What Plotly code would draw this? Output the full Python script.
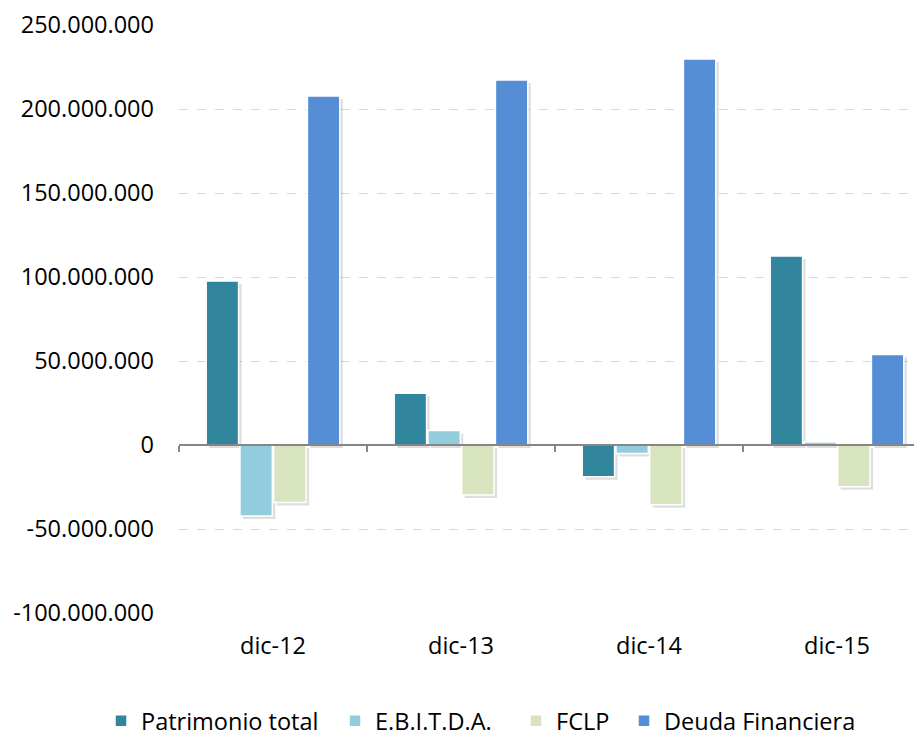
import plotly.graph_objects as go

categories = ["dic-12", "dic-13", "dic-14", "dic-15"]
patrimonio = [97.6e6, 30.8e6, -18.9e6, 112.5e6]
ebitda = [-42.3e6, 8.7e6, -5.0e6, 1.8e6]
fclp = [-34.3e6, -29.8e6, -35.5e6, -24.8e6]
deuda = [207.7e6, 217.3e6, 229.8e6, 53.8e6]

series_names = ["Patrimonio total", "E.B.I.T.D.A.", "FCLP", "Deuda Financiera"]
series_values = [patrimonio, ebitda, fclp, deuda]
colors = ["#31859C", "#93CDDD", "#D7E4BD", "#558ED5"]

y_tickvals = [-100e6, -50e6, 0, 50e6, 100e6, 150e6, 200e6, 250e6]
y_ticktext = ["-100.000.000", "-50.000.000", "0", "50.000.000", "100.000.000",
              "150.000.000", "200.000.000", "250.000.000"]

FONT = "Open Sans"
FS = 23.5

# page body adds an 8px offset; compensate in margins
OFF = 8
W, H = 922, 737
plot_w, plot_h = 743, 588
ML = 179 - OFF
MT = 25 - OFF
MR = W - ML - plot_w
MB = H - MT - plot_h
cat_px = 188
xr = [-0.5, -0.5 + plot_w / cat_px]
yr = [-100e6, 250e6]

# shadow offset (px)
SH_X, SH_Y = 3, 3
dx = SH_X / cat_px
dy = SH_Y * (yr[1] - yr[0]) / plot_h

legend_x_px = [101 - OFF, 335 - OFF, 516 - OFF, 624 - OFF]
legend_y_px = 721 - OFF

fig = go.Figure()

# shadows (drawn first, on overlay axes x2/y2 shifted by a few pixels)
for vals in series_values:
    fig.add_trace(go.Bar(
        x=categories, y=vals, xaxis="x2", yaxis="y2",
        marker=dict(color="rgba(0,0,0,0.13)", line=dict(width=0)),
        showlegend=False, hoverinfo="skip",
    ))

# main bars (overlay axes x3/y3)
for i, (name, vals, col) in enumerate(zip(series_names, series_values, colors)):
    lg = "legend" if i == 0 else f"legend{i+1}"
    fig.add_trace(go.Bar(
        x=categories, y=vals, name=name, xaxis="x3", yaxis="y3",
        marker=dict(color=col, line=dict(color="white", width=1.5)),
        legend=lg,
    ))

# zero-line axis carrier
fig.add_trace(go.Scatter(x=[0], y=[0], xaxis="x4", yaxis="y3", mode="markers",
                         marker=dict(opacity=0), showlegend=False, hoverinfo="skip"))
# base axis carrier
fig.add_trace(go.Scatter(x=[0], y=[0], xaxis="x", yaxis="y", mode="markers",
                         marker=dict(opacity=0), showlegend=False, hoverinfo="skip"))

layout_legends = {}
for i, px in enumerate(legend_x_px):
    key = "legend" if i == 0 else f"legend{i+1}"
    layout_legends[key] = dict(
        xref="container", yref="container",
        x=px / W, xanchor="left",
        y=(H - legend_y_px) / H, yanchor="middle",
        orientation="h",
        font=dict(family=FONT, size=FS, color="#000000"),
        bgcolor="rgba(0,0,0,0)",
        itemwidth=30,
    )

hidden = dict(showgrid=False, showline=False, ticks="", showticklabels=False,
              zeroline=False, automargin=False)

fig.update_layout(
    width=W, height=H,
    margin=dict(l=ML, r=MR, t=MT, b=MB, autoexpand=False),
    paper_bgcolor="white", plot_bgcolor="white",
    barmode="group", bargap=0.282, bargroupgap=0.04,
    font=dict(family=FONT, size=FS, color="#000000"),
    xaxis=dict(
        type="linear", range=xr, showgrid=False, showline=False,
        tickmode="array", tickvals=list(range(len(categories))), ticktext=categories,
        ticks="", tickfont=dict(family=FONT, size=FS), ticklabelstandoff=16,
        zeroline=False, automargin=False,
    ),
    yaxis=dict(
        range=yr, tickmode="array", tickvals=y_tickvals, ticktext=y_ticktext,
        showgrid=True, gridcolor="#D9D9D9", griddash="dash", gridwidth=1,
        zeroline=False, showline=False, ticks="", ticklabelstandoff=24,
        tickfont=dict(family=FONT, size=FS), automargin=False,
    ),
    xaxis2=dict(type="category", overlaying="x", range=[xr[0] - dx, xr[1] - dx], **hidden),
    yaxis2=dict(overlaying="y", range=[yr[0] + dy, yr[1] + dy], **hidden),
    xaxis3=dict(type="category", overlaying="x", range=xr, **hidden),
    yaxis3=dict(overlaying="y", range=yr, **hidden),
    xaxis4=dict(
        type="linear",
        overlaying="x", anchor="free", position=100 / 350, side="bottom",
        range=xr, showgrid=False, showline=True, linecolor="#868686", linewidth=1.5,
        ticks="outside", ticklen=6, tickwidth=1.5, tickcolor="#868686",
        tickmode="array", tickvals=[-0.5, 0.5, 1.5, 2.5], showticklabels=False,
        zeroline=False, automargin=False,
    ),
    showlegend=True,
    **layout_legends,
)

fig.write_html("out.html")
